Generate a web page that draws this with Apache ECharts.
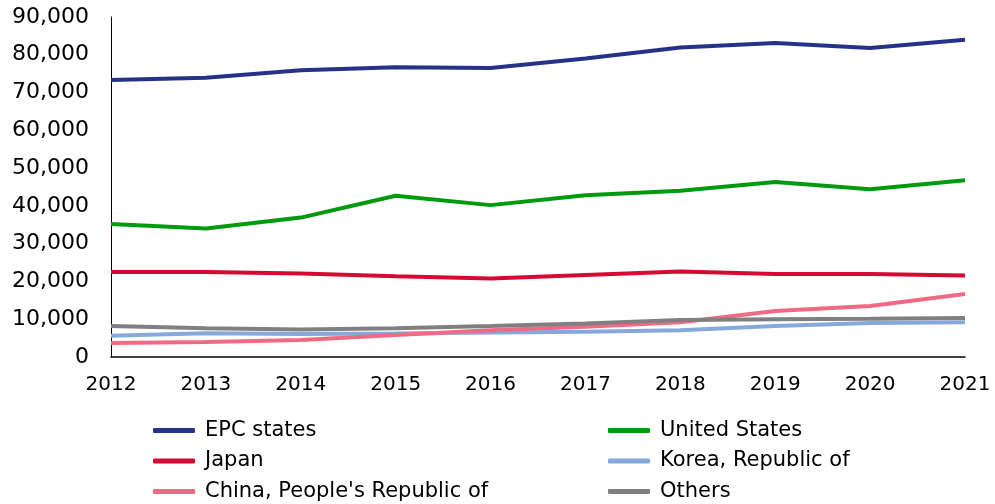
<html>
  <head>
    <meta charset="utf-8">
    <title>Patent filings</title>
    <script src="https://cdn.jsdelivr.net/npm/echarts@6.0.0/dist/echarts.min.js"></script>
    <style>
      html, body { margin: 0; padding: 0; background: #fff; }
      #main { width: 995px; height: 504px; }
    </style>
  </head>
  <body>
    <div id="main"></div>
    <script type="text/javascript">
      var years = ['2012', '2013', '2014', '2015', '2016', '2017', '2018', '2019', '2020', '2021'];
      var epc = [73300, 73900, 75900, 76700, 76500, 79000, 81900, 83100, 81800, 84000];
      var us = [35200, 34000, 36900, 42700, 40200, 42800, 44000, 46300, 44400, 46800];
      var japan = [22500, 22500, 22100, 21400, 20800, 21700, 22600, 22000, 22000, 21600];
      var korea = [5600, 6300, 6100, 6200, 6500, 6700, 7100, 8200, 9000, 9200];
      var china = [3700, 4000, 4500, 5800, 7100, 8000, 9200, 12200, 13500, 16700];
      var others = [8200, 7600, 7300, 7600, 8200, 8900, 9800, 10000, 10100, 10300];

      var font = '"DejaVu Sans", "Noto Sans", sans-serif';

      function line(name, data, color) {
        return {
          name: name,
          type: 'line',
          data: data,
          showSymbol: false,
          symbol: 'none',
          lineStyle: { width: 4, color: color },
          itemStyle: { color: color }
        };
      }

      var legendBase = {
        orient: 'vertical',
        top: 420,
        padding: 0,
        itemGap: 9.5,
        itemWidth: 42,
        itemHeight: 5,
        icon: 'roundRect',
        textStyle: { fontFamily: font, fontSize: 21, color: '#000', padding: [0, 0, 0, 5] }
      };

      var myChart = echarts.init(document.getElementById('main'));
      var option = {
        animation: false,
        grid: { left: 111, right: 30, top: 17, bottom: 147 },
        legend: [
          Object.assign({}, legendBase, { left: 153, data: ['EPC states', 'Japan', "China, People's Republic of"] }),
          Object.assign({}, legendBase, { left: 608, data: ['United States', 'Korea, Republic of', 'Others'] })
        ],
        xAxis: {
          type: 'category',
          boundaryGap: false,
          data: years,
          axisLine: { lineStyle: { color: '#000', width: 1.5 } },
          axisTick: { show: false },
          axisLabel: { fontFamily: font, fontSize: 20, color: '#000', margin: 18 }
        },
        yAxis: {
          type: 'value',
          min: 0,
          max: 90000,
          interval: 10000,
          axisLine: { show: true, lineStyle: { color: '#000', width: 1 } },
          axisTick: { show: false },
          splitLine: { show: false },
          axisLabel: {
            fontFamily: font, fontSize: 22, color: '#000', margin: 22,
            formatter: function (v) { return v.toLocaleString('en-US'); }
          }
        },
        series: [
          line('EPC states', epc, '#263287'),
          line('United States', us, '#009a0f'),
          line('Japan', japan, '#d40a33'),
          line('Korea, Republic of', korea, '#86a9db'),
          line("China, People's Republic of", china, '#ef6b85'),
          line('Others', others, '#808080')
        ]
      };
      option && myChart.setOption(option);
    </script>
  </body>
</html>
